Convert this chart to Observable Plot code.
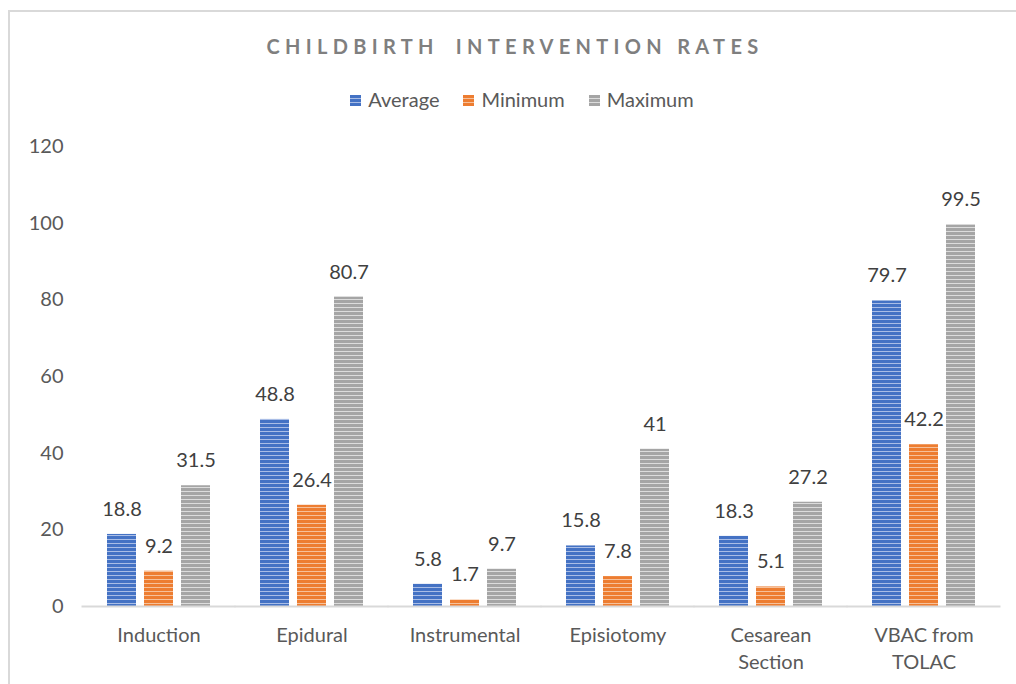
<!DOCTYPE html>
<html><head><meta charset="utf-8">
<script src="https://cdn.jsdelivr.net/npm/d3@7"></script>
<script src="https://cdn.jsdelivr.net/npm/@observablehq/plot@0.6"></script>
<style>
body{margin:0;background:#fff;font-family:Lato,"Open Sans",sans-serif;width:1016px;height:684px;overflow:hidden;position:relative;}
#frame{position:absolute;left:8px;top:10px;width:1020px;height:690px;border-top:2px solid #d9d9d9;border-left:2px solid #d9d9d9;}
#title{position:absolute;top:32px;left:0;width:1030px;text-align:center;font-size:20px;font-weight:bold;letter-spacing:5.3px;color:#7f7f7f;line-height:28px;white-space:pre;}
#title span{margin-left:7px;}
#legend{position:absolute;top:86px;left:0;width:1044px;text-align:center;font-size:20px;color:#595959;line-height:26px;}
#legend span.item{margin:0 12px;}
#legend span.sw{display:inline-block;width:11px;height:11px;margin-right:7px;vertical-align:1px;}
#chart{position:absolute;left:0;top:120px;}
</style></head>
<body>
<div id="frame"></div>
<div id="title">CHILDBIRTH <span>INTERVENTION RATES</span></div>
<div id="legend"></div>
<div id="chart"></div>
<script>
const categories = ["Induction", "Epidural", "Instrumental", "Episiotomy", "Cesarean\nSection", "VBAC from\nTOLAC"];
const series = ["Average", "Minimum", "Maximum"];
const average = [18.8, 48.8, 5.8, 15.8, 18.3, 79.7];
const minimum = [9.2, 26.4, 1.7, 7.8, 5.1, 42.2];
const maximum = [31.5, 80.7, 9.7, 41, 27.2, 99.5];
const yTicks = [0, 20, 40, 60, 80, 100, 120];
const colors = ["#4472C4", "#ED7D31", "#A5A5A5"];
const lightColors = ["#a9bde6", "#f6c19b", "#dcdcdc"];

const valuesBySeries = [average, minimum, maximum];
const data = [];
categories.forEach((c, i) => {
  series.forEach((s, j) => data.push({category: c, series: s, value: valuesBySeries[j][i]}));
});

const chart = Plot.plot({
  width: 1016,
  height: 564,
  marginTop: 26,
  marginBottom: 78,
  marginLeft: 80,
  marginRight: 14,
  style: {fontFamily: "Lato, 'Open Sans', sans-serif", background: "transparent"},
  fx: {domain: categories, paddingInner: 0.33, paddingOuter: 0.165, label: null},
  x: {domain: series, paddingInner: 0.22, paddingOuter: 0, axis: null},
  y: {domain: [0, 120], label: null},
  color: {domain: series, range: series.map((s, i) => `url(#stripe${i})`)},
  marks: [
    Plot.axisY({ticks: yTicks, tickSize: 0, tickPadding: 44, fontSize: 20, fill: "#595959", label: null}),
    Plot.axisFx({anchor: "bottom", tickSize: 0, tickPadding: 16, fontSize: 20, fill: "#595959", lineHeight: 1.35, label: null, lineAnchor: "top"}),
    Plot.barY(data, {fx: "category", x: "series", y: "value", fill: "series"}),
    Plot.ruleY([0], {stroke: "#d9d9d9", strokeWidth: 2, insetLeft: -25.5, insetRight: -25.5}),
    Plot.text(data, {fx: "category", x: "series", y: "value", text: d => String(d.value), dy: -25, fontSize: 20, fill: "#404040", lineAnchor: "middle"})
  ]
});

// stripe patterns
const ns = "http://www.w3.org/2000/svg";
const defs = document.createElementNS(ns, "defs");
colors.forEach((c, i) => {
  const p = document.createElementNS(ns, "pattern");
  p.setAttribute("id", `stripe${i}`);
  p.setAttribute("patternUnits", "userSpaceOnUse");
  p.setAttribute("width", 8);
  p.setAttribute("height", 4);
  const r1 = document.createElementNS(ns, "rect");
  r1.setAttribute("width", 8); r1.setAttribute("height", 4); r1.setAttribute("fill", c);
  const r2 = document.createElementNS(ns, "rect");
  r2.setAttribute("y", 3); r2.setAttribute("width", 8); r2.setAttribute("height", 1); r2.setAttribute("fill", lightColors[i]);
  p.appendChild(r1); p.appendChild(r2);
  defs.appendChild(p);
});
chart.insertBefore(defs, chart.firstChild);
document.getElementById("chart").appendChild(chart);

const legend = document.getElementById("legend");
series.forEach((s, i) => {
  const item = document.createElement("span");
  item.className = "item";
  const sw = document.createElement("span");
  sw.className = "sw";
  sw.style.background = `repeating-linear-gradient(${colors[i]} 0 3px, ${lightColors[i]} 3px 4px)`;
  item.appendChild(sw);
  item.appendChild(document.createTextNode(s));
  legend.appendChild(item);
});
</script>
</body></html>
